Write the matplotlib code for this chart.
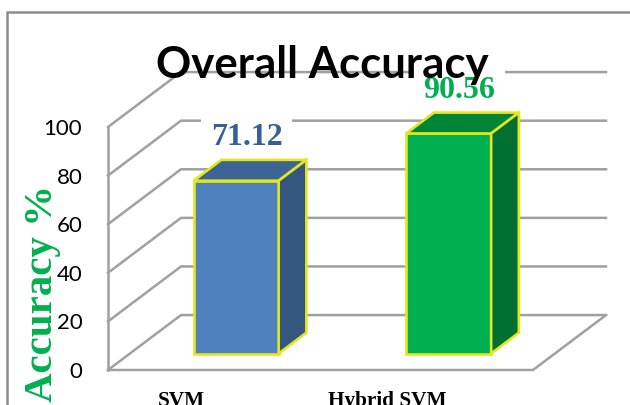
import matplotlib
matplotlib.use("Agg")
import matplotlib.pyplot as plt
from matplotlib.lines import Line2D
from matplotlib.patches import Polygon

categories = ["SVM", "Hybrid SVM"]
accuracy = [71.12, 90.56]
value_labels = ["71.12", "90.56"]
y_ticks = [0, 20, 40, 60, 80, 100]

front_colors = ["#4f81bd", "#00b050"]
top_colors = ["#3c6494", "#008436"]
side_colors = ["#35577f", "#007032"]
label_colors = ["#376092", "#00b050"]
edge_color = "#e4e61e"
grid_color = "#a0a0a0"

W, H = 630, 405
DEPTH_X = 0.3435
DEPTH_Y = 22.6
BAR_WIDTH = 0.4
BAR_FRONT = 0.3
BAR_BACK = 0.68


def project(x, y, d):
    return x + d * DEPTH_X, y + d * DEPTH_Y


def draw_wall(ax):
    left, right = ax.get_xlim()
    for tick in y_ticks:
        x0, y0 = project(left, tick, 0)
        x1, y1 = project(left, tick, 1)
        x2, y2 = project(right, tick, 1)
        ax.plot([x0, x1, x2], [y0, y1, y2], color=grid_color, lw=1.8,
                solid_joinstyle="miter", zorder=1, clip_on=False)
    ax.plot([left, left], [0, 100], color=grid_color, lw=1.8, zorder=1, clip_on=False)
    # floor edge
    fx, fy = project(right, 0, 1)
    ax.plot([left, right, fx], [0, 0, fy], color=grid_color, lw=1.8, zorder=1, clip_on=False)


def draw_bar(ax, pos, value, i):
    x0, y0 = project(pos - BAR_WIDTH / 2, 0, BAR_FRONT)
    x1 = x0 + BAR_WIDTH
    y1 = y0 + value
    step_x = (BAR_BACK - BAR_FRONT) * DEPTH_X
    step_y = (BAR_BACK - BAR_FRONT) * DEPTH_Y
    ax.bar(x0, value, width=BAR_WIDTH, bottom=y0, align="edge", color=front_colors[i],
           edgecolor=edge_color, linewidth=1.9, zorder=3, clip_on=False)
    ax.add_patch(Polygon([(x0, y1), (x1, y1), (x1 + step_x, y1 + step_y), (x0 + step_x, y1 + step_y)],
                         facecolor=top_colors[i], edgecolor=edge_color, lw=1.9, zorder=3, clip_on=False))
    ax.add_patch(Polygon([(x1, y0), (x1 + step_x, y0 + step_y), (x1 + step_x, y1 + step_y), (x1, y1)],
                         facecolor=side_colors[i], edgecolor=edge_color, lw=1.9, zorder=3, clip_on=False))
    # white box breaks the gridlines but stays behind the bar
    ax.text(x0 + BAR_WIDTH / 2 + 0.05, y1 + 17.8, value_labels[i], color=label_colors[i], fontsize=23,
            family="Liberation Serif", fontweight="bold", ha="center", va="center", zorder=2,
            bbox=dict(facecolor="white", edgecolor="none", pad=7))


fig = plt.figure(figsize=(W / 100, H / 100), dpi=100)
ax = fig.add_axes([108 / W, (H - 370) / H, 425 / W, 243 / H])
ax.set_xlim(-0.5, 1.5)
ax.set_ylim(0, 100)
for spine in ax.spines.values():
    spine.set_visible(False)
ax.patch.set_visible(False)
ax.set_xticks([])
ax.set_yticks(y_ticks)
ax.tick_params(axis="y", length=0, pad=18.5, labelsize=16)
for lab in ax.get_yticklabels():
    lab.set_family("Lato")

draw_wall(ax)
for i, value in enumerate(accuracy):
    draw_bar(ax, i, value, i)

# category labels sit left of the bars in the original
ax.text(-0.156, -14.8, categories[0], family="Liberation Serif", fontweight="bold", fontsize=15.3,
        ha="center", va="baseline", clip_on=False)
ax.text(0.813, -14.8, categories[1], family="Liberation Serif", fontweight="bold", fontsize=15.3,
        ha="center", va="baseline", clip_on=False)

fig.text(322 / W, (H - 78) / H, "Overall Accuracy", family="Lato", fontweight="bold",
         fontsize=31.5, ha="center", va="baseline", zorder=6)
fig.text(61 / W, (H - 402) / H, "Accuracy %", family="Liberation Serif", fontweight="bold",
         color="#00b050", fontsize=29.5, rotation=90, ha="left", va="bottom",
         rotation_mode="anchor", zorder=6)

# chart frame, cut off by the crop on the right and bottom
fig.add_artist(Line2D([7 / W, 7 / W, 1], [0, (H - 12) / H, (H - 12) / H], color="#8c8c8c", lw=1.8))

fig.savefig("out.png", dpi=100)
